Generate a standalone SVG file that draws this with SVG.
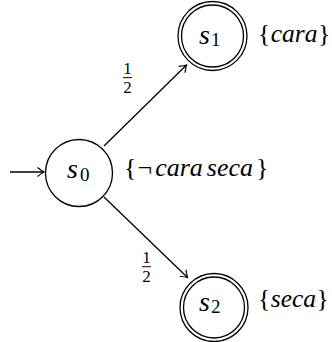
<svg xmlns="http://www.w3.org/2000/svg" width="332" height="342" viewBox="0 0 332 342">
<style>
  .st { fill: #fff; stroke: #000; stroke-width: 1.3; }
  .dbl { fill: none; stroke: #000; stroke-width: 1.3; }
  .edge { fill: none; stroke: #000; stroke-width: 1.3; }
  .bar { stroke: #000; stroke-width: 1; }
  text { font-family: "Liberation Serif", serif; fill: #000; }
  .nm { font-size: 28px; font-style: italic; }
  .sub { font-size: 19px; }
  .lab { font-size: 26px; }
  .lab2 { font-size: 25.5px; }
  .it { font-style: italic; }
  .frac { font-size: 17px; text-anchor: middle; }
</style>
<defs>
  <marker id="arr" viewBox="-8 -6 10 12" refX="0" refY="0" markerWidth="10" markerHeight="12" markerUnits="userSpaceOnUse" orient="auto">
    <path d="M-6.5,-4.5 Q-2,-1 0,0 Q-2,1 -6.5,4.5" fill="none" stroke="#000" stroke-width="1.2"/>
  </marker>
</defs>
<rect width="332" height="342" fill="#fff"/>
<g id="connectors">
  <line class="edge" x1="10" y1="172" x2="44" y2="172" marker-end="url(#arr)"/>
  <line class="edge" x1="104" y1="146" x2="186.5" y2="65" marker-end="url(#arr)"/>
  <line class="edge" x1="104" y1="197" x2="187.5" y2="277.5" marker-end="url(#arr)"/>
  <g id="label-e1">
    <text class="frac" x="127.5" y="73.5">1</text>
    <line class="bar" x1="123" y1="77.7" x2="132" y2="77.7"/>
    <text class="frac" x="127.5" y="93.3">2</text>
  </g>
  <g id="label-e2">
    <text class="frac" x="146.5" y="263">1</text>
    <line class="bar" x1="142" y1="266.7" x2="151" y2="266.7"/>
    <text class="frac" x="146.5" y="281.7">2</text>
  </g>
</g>
<g id="s0">
  <circle class="st" cx="79" cy="173" r="33.5"/>
  <text x="67" y="178"><tspan class="nm">s</tspan><tspan class="sub" x="80" y="181">0</tspan></text>
  <text class="lab" x="124" y="176">{<tspan dx="1">¬</tspan><tspan class="it" dx="3">cara</tspan><tspan class="it" dx="4">seca</tspan><tspan dx="3">}</tspan></text>
</g>
<g id="s1">
  <circle class="dbl" cx="212.5" cy="36" r="34.5"/>
  <circle class="dbl" cx="212.5" cy="36" r="31"/>
  <text x="199" y="43.5"><tspan class="nm">s</tspan><tspan class="sub" x="211" y="46">1</tspan></text>
  <text class="lab2" x="258" y="42">{<tspan class="it" dx="0.5">cara</tspan><tspan dx="0.5">}</tspan></text>
</g>
<g id="s2">
  <circle class="dbl" cx="214" cy="307.5" r="34"/>
  <circle class="dbl" cx="214" cy="307.5" r="30.5"/>
  <text x="199" y="310.5"><tspan class="nm">s</tspan><tspan class="sub" x="211" y="313">2</tspan></text>
  <text class="lab2" x="258" y="307">{<tspan class="it" dx="0.5">seca</tspan><tspan dx="0.5">}</tspan></text>
</g>
</svg>
